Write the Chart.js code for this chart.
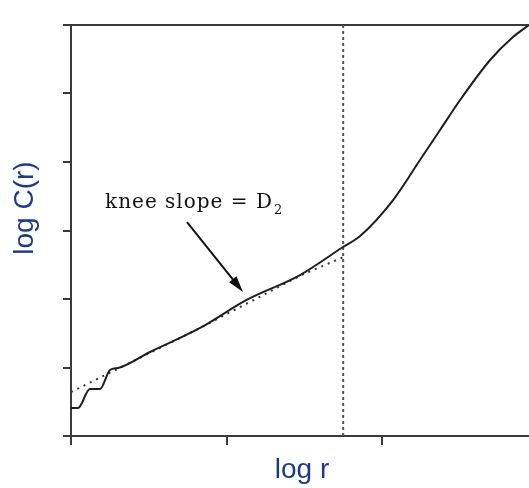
<!DOCTYPE html>
<html>
<head>
<meta charset="utf-8">
<script src="https://cdn.jsdelivr.net/npm/chart.js@4.4.1/dist/chart.umd.min.js"></script>
<style>
  html, body { margin: 0; padding: 0; background: #fff; }
  #wrap { width: 529px; height: 488px; position: relative; }
</style>
</head>
<body>
<div id="wrap"><canvas id="chart"></canvas></div>
<script>
// log C(r) against log r
const curveX = [0, 0.045, 0.122, 0.186, 0.251, 0.302, 0.508, 0.830, 1.132, 1.473, 1.749, 1.859, 2.071, 2.244, 2.373, 2.502, 2.695, 2.842, 2.945];
const curveY = [0.409, 0.409, 0.686, 0.686, 0.964, 0.993, 1.226, 1.577, 1.990, 2.350, 2.759, 2.920, 3.445, 4.029, 4.467, 4.905, 5.489, 5.825, 6.0];

// fitted line (dotted) in the linear region
const fitX = [0, 0.830, 1.473, 1.768];
const fitY = [0.642, 1.577, 2.340, 2.628];

// vertical dotted marker
const markerX = 1.75;
const markerY = [0, 6];

const xTicks = [0, 1, 2];
const yTicks = [0, 1, 2, 3, 4, 5, 6];

const axisColor = '#3a3a3a';
const titleColor = '#1f3a85';

const toPoints = (xs, ys) => xs.map((x, i) => ({ x: x, y: ys[i] }));

// annotation: label + arrow, in data units
const annotation = {
    textX: 0.219, textY: 3.33,
    arrowFrom: [0.746, 3.124],
    arrowTo: [1.106, 2.102]
};

const annotatePlugin = {
    id: 'annotate',
    afterDatasetsDraw(chart) {
        const { ctx, scales: { x, y } } = chart;
        ctx.save();
        // label
        ctx.fillStyle = '#111';
        ctx.font = '20px "DejaVu Serif", serif';
        ctx.letterSpacing = '1px';
        ctx.textBaseline = 'alphabetic';
        const tx = x.getPixelForValue(annotation.textX);
        const ty = y.getPixelForValue(annotation.textY);
        const main = 'knee slope = D';
        ctx.fillText(main, tx, ty);
        const w = ctx.measureText(main).width;
        ctx.font = '13px "DejaVu Serif", serif';
        ctx.fillText('2', tx + w + 1, ty + 6);
        ctx.letterSpacing = '0px';

        // arrow
        const x1 = x.getPixelForValue(annotation.arrowFrom[0]);
        const y1 = y.getPixelForValue(annotation.arrowFrom[1]);
        const x2 = x.getPixelForValue(annotation.arrowTo[0]);
        const y2 = y.getPixelForValue(annotation.arrowTo[1]);
        const ang = Math.atan2(y2 - y1, x2 - x1);
        ctx.strokeStyle = '#111';
        ctx.lineWidth = 2;
        ctx.beginPath();
        ctx.moveTo(x1, y1);
        ctx.lineTo(x2 - 8 * Math.cos(ang), y2 - 8 * Math.sin(ang));
        ctx.stroke();
        ctx.beginPath();
        ctx.moveTo(x2, y2);
        ctx.lineTo(x2 - 17 * Math.cos(ang - 0.28), y2 - 17 * Math.sin(ang - 0.28));
        ctx.lineTo(x2 - 17 * Math.cos(ang + 0.28), y2 - 17 * Math.sin(ang + 0.28));
        ctx.closePath();
        ctx.fillStyle = '#111';
        ctx.fill();

        // axis titles
        ctx.fillStyle = titleColor;
        ctx.font = '28px "Liberation Sans", Arial, sans-serif';
        ctx.textAlign = 'center';
        ctx.textBaseline = 'middle';
        ctx.fillText('log r', 302, 470);
        ctx.translate(25, 208);
        ctx.rotate(-Math.PI / 2);
        ctx.fillText('log C(r)', 0, 0);
        ctx.restore();
    }
};

new Chart(document.getElementById('chart'), {
    type: 'line',
    data: {
        datasets: [
            {
                data: toPoints(curveX, curveY),
                borderColor: '#1e1e1e',
                borderWidth: 2,
                pointRadius: 0,
                cubicInterpolationMode: 'monotone',
                order: 1
            },
            {
                data: toPoints(fitX, fitY),
                borderColor: '#333',
                borderWidth: 2,
                borderDash: [2, 5],
                pointRadius: 0,
                order: 2
            },
            {
                data: toPoints([markerX, markerX], markerY),
                borderColor: '#555',
                borderWidth: 2,
                borderDash: [3, 3],
                pointRadius: 0,
                order: 3
            }
        ]
    },
    options: {
        responsive: true,
        maintainAspectRatio: false,
        animation: false,
        layout: { padding: { top: 25, right: 0, left: 0, bottom: 0 } },
        plugins: {
            legend: { display: false },
            tooltip: { enabled: false }
        },
        scales: {
            x: {
                type: 'linear',
                min: 0,
                max: 2.945,
                afterBuildTicks: (scale) => { scale.ticks = xTicks.map(v => ({ value: v })); },
                afterFit: (scale) => { scale.height = 52; },
                ticks: { display: false },
                grid: { drawOnChartArea: false, drawTicks: true, tickLength: 9, color: axisColor, lineWidth: 2 },
                border: { display: true, color: axisColor, width: 2 }
            },
            x2: {
                type: 'linear',
                position: 'top',
                min: 0,
                max: 2.945,
                afterFit: (scale) => { scale.height = 0; },
                ticks: { display: false },
                grid: { display: false },
                border: { display: true, color: axisColor, width: 2 }
            },
            y: {
                type: 'linear',
                min: 0,
                max: 6,
                afterBuildTicks: (scale) => { scale.ticks = yTicks.map(v => ({ value: v })); },
                afterFit: (scale) => { scale.width = 71; },
                ticks: { display: false },
                grid: { drawOnChartArea: false, drawTicks: true, tickLength: 8, color: axisColor, lineWidth: 2 },
                border: { display: true, color: axisColor, width: 2 }
            }
        }
    },
    plugins: [annotatePlugin]
});
</script>
</body>
</html>
